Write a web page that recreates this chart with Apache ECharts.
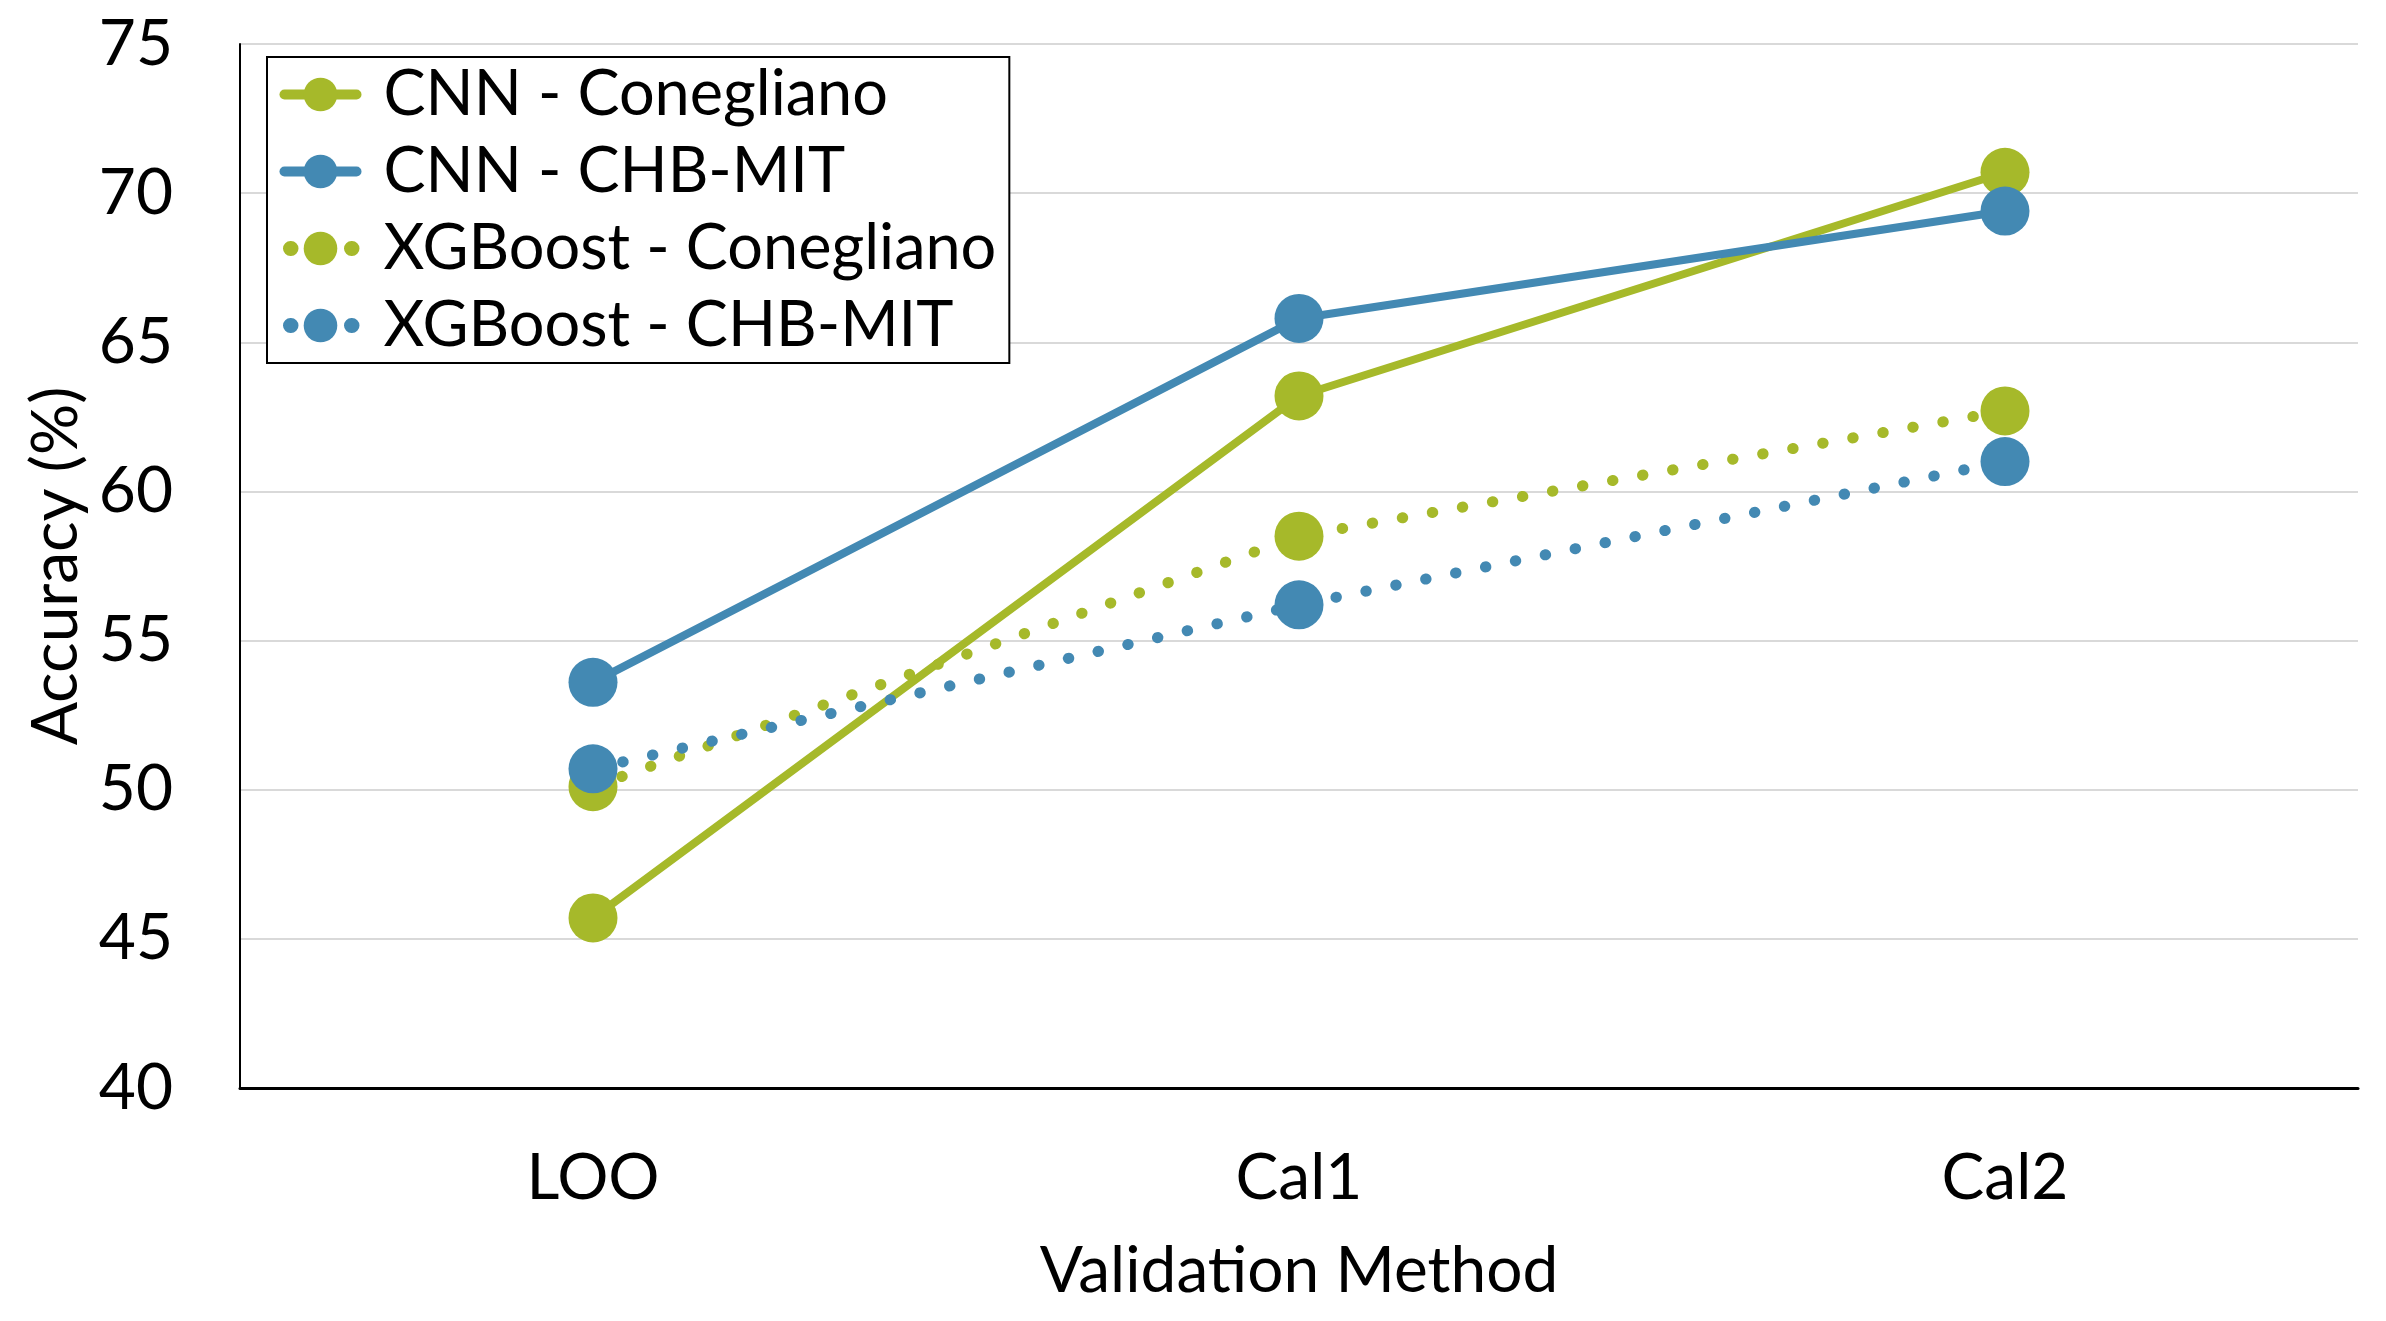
<!DOCTYPE html>
<html>
<head>
<meta charset="utf-8">
<script src="https://cdn.jsdelivr.net/npm/echarts@6/dist/echarts.min.js"></script>
<style>
html,body{margin:0;padding:0;background:#fff;}
#chart{width:2386px;height:1321px;}
</style>
</head>
<body>
<div id="chart"></div>
<script>
const categories = ['LOO', 'Cal1', 'Cal2'];
const cnnConegliano = [45.7, 63.2, 70.7];
const cnnChbMit = [53.6, 65.8, 69.4];
const xgbConegliano = [50.1, 58.5, 62.7];
const xgbChbMit = [50.7, 56.2, 61.0];
const seriesNames = ['CNN - Conegliano', 'CNN - CHB-MIT', 'XGBoost - Conegliano', 'XGBoost - CHB-MIT'];
const yTicks = {min: 40, max: 75, interval: 5};

const GREEN = '#a6b92a';
const BLUE = '#4389b3';
const FONT = 'Lato';
const FS = 64;

function mk(name, data, color, dotted) {
  return {
    name: name,
    type: 'line',
    data: data,
    symbol: 'circle',
    symbolSize: 49,
    itemStyle: {color: color},
    lineStyle: dotted
      ? {color: color, width: 11, type: [0.5, 30], cap: 'round'}
      : {color: color, width: 8},
    emphasis: {disabled: true},
    animation: false
  };
}

function legendItem(name, color, dotted) {
  return {
    name: name,
    lineStyle: dotted
      ? {color: color, width: 15, type: [0.5, 30], cap: 'round', dashOffset: -6}
      : {color: color, width: 10, cap: 'round'}
  };
}

const chart = echarts.init(document.getElementById('chart'));
chart.setOption({
  backgroundColor: '#ffffff',
  animation: false,
  textStyle: {fontFamily: FONT, color: '#000'},
  grid: {left: 240, right: 28, top: 44, bottom: 233, containLabel: false},
  legend: {
    left: 267, top: 57, orient: 'vertical',
    backgroundColor: '#fff', borderColor: '#000', borderWidth: 2,
    padding: [6, 13, 6, 10],
    itemWidth: 72, itemHeight: 42, itemGap: 14,
    textStyle: {fontFamily: FONT, fontSize: 63, color: '#000', padding: [0, 0, 0, 22]},
    data: [
      legendItem(seriesNames[0], GREEN, false),
      legendItem(seriesNames[1], BLUE, false),
      legendItem(seriesNames[2], GREEN, true),
      legendItem(seriesNames[3], BLUE, true)
    ]
  },
  xAxis: {
    type: 'category', data: categories, boundaryGap: true,
    axisLine: {lineStyle: {color: '#000', width: 3}},
    axisTick: {show: false},
    axisLabel: {fontFamily: FONT, fontSize: FS, color: '#000', margin: 58},
    name: 'Validation Method', nameLocation: 'middle', nameGap: 151,
    nameTextStyle: {fontFamily: FONT, fontSize: FS, color: '#000'}
  },
  yAxis: {
    type: 'value', min: yTicks.min, max: yTicks.max, interval: yTicks.interval,
    axisLine: {show: true, lineStyle: {color: '#000', width: 2}},
    axisTick: {show: false},
    splitLine: {lineStyle: {color: '#d9d9d9', width: 2}},
    axisLabel: {fontFamily: FONT, fontSize: FS, color: '#000', margin: 67},
    name: 'Accuracy (%)', nameLocation: 'middle', nameGap: 151, nameRotate: 90,
    nameTextStyle: {fontFamily: FONT, fontSize: FS, color: '#000'}
  },
  series: [
    mk(seriesNames[0], cnnConegliano, GREEN, false),
    mk(seriesNames[1], cnnChbMit, BLUE, false),
    mk(seriesNames[2], xgbConegliano, GREEN, true),
    mk(seriesNames[3], xgbChbMit, BLUE, true)
  ]
});
</script>
</body>
</html>
